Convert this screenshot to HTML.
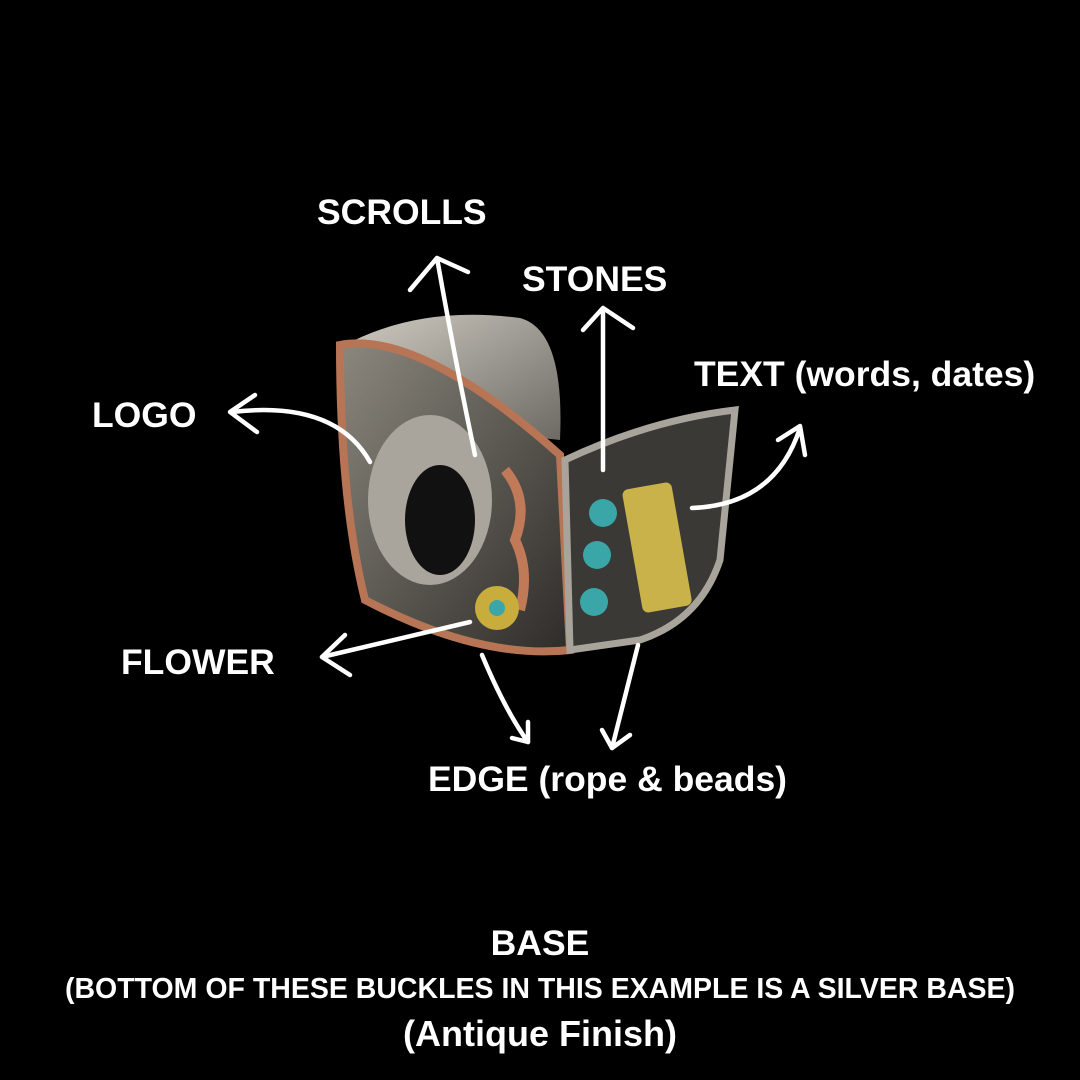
<!DOCTYPE html>
<html><head><meta charset="utf-8"><style>
html,body{margin:0;padding:0;background:#000;}
body{width:1080px;height:1080px;position:relative;overflow:hidden;font-family:"Liberation Sans",sans-serif;font-weight:bold;color:#fff;}
.t{position:absolute;white-space:nowrap;font-size:35.5px;line-height:1;}
</style></head><body>
<svg width="1080" height="1080" style="position:absolute;left:0;top:0">
<defs>
<linearGradient id="sil" x1="0" y1="0" x2="1" y2="1"><stop offset="0" stop-color="#cfcbc2"/><stop offset="1" stop-color="#6d6a64"/></linearGradient>
<linearGradient id="dk" x1="0" y1="0" x2="1" y2="1"><stop offset="0" stop-color="#8b877d"/><stop offset="1" stop-color="#2e2c29"/></linearGradient>
</defs>
<path d="M345,345 Q420,305 520,318 Q565,330 560,440 L470,430 Z" fill="url(#sil)"/>
<path d="M340,345 Q420,330 560,455 L570,650 Q480,660 365,600 Q340,500 340,345 Z" fill="url(#dk)" stroke="#b87556" stroke-width="8"/>
<ellipse cx="430" cy="500" rx="62" ry="85" fill="#a9a59c"/>
<ellipse cx="440" cy="520" rx="35" ry="55" fill="#111"/>
<path d="M505,470 Q530,500 515,540 Q530,570 520,610" stroke="#c07a58" stroke-width="10" fill="none"/>
<path d="M565,460 Q650,420 735,410 L720,560 Q700,620 640,640 L570,650 Z" fill="#3b3935" stroke="#a8a49b" stroke-width="7"/>
<rect x="632" y="485" width="50" height="125" rx="6" fill="#c9b24a" transform="rotate(-10 657 547)"/>
<circle cx="603" cy="513" r="14" fill="#3aa6a8"/><circle cx="597" cy="555" r="14" fill="#3aa6a8"/><circle cx="594" cy="602" r="14" fill="#3aa6a8"/>
<circle cx="497" cy="608" r="22" fill="#c8ad3d"/><circle cx="497" cy="608" r="8" fill="#3aa6a8"/>
<g stroke="#fff" stroke-width="4.5" fill="none" stroke-linecap="round" stroke-linejoin="round">
<path d="M475,455 Q455,360 437,258"/><path d="M410,290 L437,258 L468,272"/>
<path d="M603,470 L603,310"/><path d="M583,330 L603,308 L633,328"/>
<path d="M692,508 Q775,505 800,428"/><path d="M778,440 L800,426 L805,455"/>
<path d="M370,462 Q335,400 232,412"/><path d="M255,395 L230,412 L257,432"/>
<path d="M470,622 L322,657"/><path d="M345,635 L322,657 L350,675"/>
<path d="M482,655 Q505,710 528,742"/><path d="M512,738 L528,742 L528,722"/>
<path d="M638,645 L612,748"/><path d="M602,730 L612,748 L630,735"/>
</g>
</svg>
<div class="t" style="left:317px;top:195px">SCROLLS</div>
<div class="t" style="left:522px;top:262px">STONES</div>
<div class="t" style="left:694px;top:357px">TEXT (words, dates)</div>
<div class="t" style="left:92px;top:398px">LOGO</div>
<div class="t" style="left:121px;top:645px">FLOWER</div>
<div class="t" style="left:428px;top:762px">EDGE (rope &amp; beads)</div>
<div class="t" style="left:0;width:1080px;text-align:center;top:926px">BASE</div>
<div class="t" style="left:0;width:1080px;text-align:center;top:975px;font-size:28.5px">(BOTTOM OF THESE BUCKLES IN THIS EXAMPLE IS A SILVER BASE)</div>
<div class="t" style="left:0;width:1080px;text-align:center;top:1016px;font-size:36px">(Antique Finish)</div>
</body></html>
